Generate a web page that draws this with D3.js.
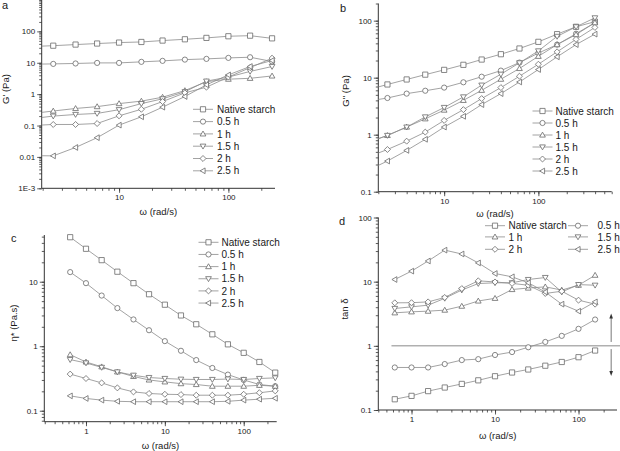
<!DOCTYPE html>
<html><head><meta charset="utf-8">
<script src="https://cdn.jsdelivr.net/npm/d3@7"></script>
<style>
body{margin:0;background:#fff;}
svg text{font-family:"Liberation Sans",Arial,sans-serif;}
</style></head>
<body><svg id="c" width="620" height="451"></svg>
<script>
const seriesNames = ["Native starch","0.5 h","1 h","1.5 h","2 h","2.5 h"];
const markerTypes = ["square","circle","triUp","triDown","diamond","triLeft"];

// Panel a: G' (Pa)
const omegaA = [1.58, 2.5, 4, 6.3, 10, 16, 25, 40, 63, 100, 158, 251];
const gPrime = [
  [33, 35, 38, 41, 44, 46, 51, 56, 62, 70, 73, 60],
  [9.0, 9.2, 9.5, 9.9, 9.9, 10.7, 11.5, 12.6, 13.3, 14.3, 15, 11],
  [0.24, 0.29, 0.35, 0.40, 0.50, 0.60, 0.80, 1.3, 2.5, 3.0, 3.2, 3.8],
  [0.165, 0.2, 0.225, 0.243, 0.32, 0.5, 0.71, 1.19, 2.6, 3.5, 5.3, 7.6],
  [0.1, 0.108, 0.108, 0.116, 0.204, 0.33, 0.58, 1.1, 1.67, 3.5, 7.0, 14],
  [0.011, 0.0108, 0.02, 0.041, 0.103, 0.19, 0.385, 0.84, 1.98, 4.1, 7.6, 11.8]
];
// Panel b: G'' (Pa)
const omegaB = [1.58, 2.5, 4, 6.3, 10, 16, 25, 40, 63, 100, 158, 251, 398];
const gDouble = [
  [6.2, 7.6, 9.3, 11.3, 13.7, 16.8, 20.8, 25.8, 32.5, 42.5, 58, 78, 96],
  [3.9, 4.4, 5.25, 5.9, 6.7, 8.3, 10.4, 13.3, 18.4, 27, 38, 59, 92],
  [0.74, 0.97, 1.36, 1.9, 2.7, 4.0, 6.0, 9.4, 14.5, 23.7, 38, 57, 92],
  [0.74, 0.97, 1.36, 2.05, 3.0, 4.6, 7.4, 11.5, 18.2, 29.5, 53, 78, 112],
  [0.41, 0.55, 0.77, 1.11, 1.78, 2.75, 4.3, 6.7, 10.6, 17.2, 28.4, 47, 76],
  [0.24, 0.345, 0.53, 0.83, 1.36, 2.1, 3.37, 5.25, 8.4, 13.9, 23.2, 38, 58]
];
// Panel c: eta* (Pa.s)
const omegaC = [0.63, 1, 1.58, 2.5, 4, 6.3, 10, 16, 25, 40, 63, 100, 158, 251];
const etaStar = [
  [49, 32.4, 21.6, 14.3, 9.5, 6.4, 4.4, 3.0, 2.19, 1.53, 1.07, 0.79, 0.57, 0.39],
  [14.1, 9.5, 6.1, 3.9, 2.6, 1.77, 1.2, 0.85, 0.61, 0.46, 0.363, 0.30, 0.255, 0.24],
  [0.74, 0.57, 0.48, 0.40, 0.34, 0.30, 0.28, 0.263, 0.255, 0.24, 0.24, 0.24, 0.248, 0.24],
  [0.62, 0.55, 0.47, 0.40, 0.355, 0.327, 0.316, 0.308, 0.305, 0.305, 0.31, 0.305, 0.316, 0.323],
  [0.37, 0.316, 0.27, 0.226, 0.196, 0.185, 0.18, 0.178, 0.174, 0.174, 0.174, 0.18, 0.19, 0.203],
  [0.17, 0.155, 0.146, 0.14, 0.138, 0.138, 0.138, 0.138, 0.138, 0.138, 0.14, 0.146, 0.151, 0.156]
];
// Panel d: tan delta
const omegaD = [0.63, 1, 1.58, 2.5, 4, 6.3, 10, 16, 25, 40, 63, 100, 158];
const tanDelta = [
  [0.147, 0.166, 0.197, 0.224, 0.255, 0.29, 0.336, 0.384, 0.428, 0.49, 0.56, 0.665, 0.845],
  [0.46, 0.46, 0.46, 0.52, 0.6, 0.62, 0.72, 0.8, 0.95, 1.15, 1.43, 1.84, 2.57],
  [3.27, 3.39, 3.47, 3.6, 4.15, 5.0, 5.5, 7.55, 7.95, 8.3, 7.4, 8.8, 12.6],
  [3.82, 4.05, 4.3, 5.5, 7.4, 9.35, 9.6, 9.6, 10.8, 11.6, 6.9, 9.0, 8.8],
  [4.68, 4.7, 4.84, 5.67, 7.8, 10.3, 9.9, 9.4, 8.8, 6.55, 7.1, 5.15, 4.46],
  [10.8, 14.6, 21, 31, 27, 19.6, 13.4, 11.9, 9.6, 6.9, 4.46, 3.47, 4.84]
];

const xTicksA = [10, 100], yTicksA = [0.001, 0.01, 0.1, 1, 10, 100];
const yLabelsA = ["1E-3", "0.01", "0.1", "1", "10", "100"];
const xTicksB = [10, 100], yTicksB = [0.1, 1, 10, 100];
const yLabelsB = ["0.1", "1", "10", "100"];
const xTicksC = [1, 10, 100], yTicksC = [0.1, 1, 10];
const yLabelsC = ["0.1", "1", "10"];
const xTicksD = [1, 10, 100], yTicksD = [0.1, 1, 10, 100];
const yLabelsD = ["0.1", "1", "10", "100"];

const LINE = "#8c8c8c", MARK = "#6a6a6a", AXIS = "#333", TXT = "#1a1a1a";
const svg = d3.select("#c");

function minorTicks(domain){
  const out=[];
  const lo=Math.floor(Math.log10(domain[0])), hi=Math.ceil(Math.log10(domain[1]));
  for(let e=lo;e<=hi;e++) for(let m=1;m<10;m++){
    const v=m*Math.pow(10,e);
    if(v>=domain[0]*0.999 && v<=domain[1]*1.001) out.push(v);
  }
  return out;
}

function markerPath(type, s){
  const h=s/2;
  switch(type){
    case "square": return `M${-h},${-h}H${h}V${h}H${-h}Z`;
    case "circle": return `M${h},0A${h},${h} 0 1,1 ${-h},0A${h},${h} 0 1,1 ${h},0Z`;
    case "triUp": return `M0,${-h*1.1}L${h*1.1},${h*0.8}L${-h*1.1},${h*0.8}Z`;
    case "triDown": return `M0,${h*1.1}L${h*1.1},${-h*0.8}L${-h*1.1},${-h*0.8}Z`;
    case "diamond": return `M0,${-h*1.15}L${h*1.15},0L0,${h*1.15}L${-h*1.15},0Z`;
    case "triLeft": return `M${-h*1.1},0L${h*0.8},${-h*1.1}L${h*0.8},${h*1.1}Z`;
  }
}
const MS = 5.2;

function panel(cfg, idx){
  const g = svg.append("g");
  const x = d3.scaleLog().domain(cfg.xd).range(cfg.xr);
  const y = d3.scaleLog().domain(cfg.yd).range(cfg.yr);
  const clipId = "clip"+idx;
  g.append("clipPath").attr("id",clipId).append("rect")
    .attr("x",cfg.xr[0]).attr("y",cfg.yr[1]).attr("width",cfg.xr[1]-cfg.xr[0]).attr("height",cfg.yr[0]-cfg.yr[1]);

  // axes
  const xb = cfg.yr[0], yl = cfg.xr[0];
  const ax = g.append("g").attr("transform",`translate(0,${xb})`)
    .call(d3.axisBottom(x).tickValues(minorTicks(cfg.xd)).tickSize(2.5).tickFormat(""));
  const ax2 = g.append("g").attr("transform",`translate(0,${xb})`)
    .call(d3.axisBottom(x).tickValues(cfg.xt).tickSize(4.5).tickPadding(2).tickFormat(d=>String(d)));
  const ay = g.append("g").attr("transform",`translate(${yl},0)`)
    .call(d3.axisLeft(y).tickValues(minorTicks(cfg.yd)).tickSize(2.5).tickFormat(""));
  const ay2 = g.append("g").attr("transform",`translate(${yl},0)`)
    .call(d3.axisLeft(y).tickValues(cfg.yt).tickSize(4.5).tickPadding(2).tickFormat((d,i)=>cfg.yl[i]));
  [ax,ax2,ay,ay2].forEach(a=>{
    a.selectAll("path.domain").attr("stroke",AXIS).attr("stroke-width",1);
    a.selectAll("line").attr("stroke",AXIS).attr("stroke-width",0.8);
    a.selectAll("text").attr("fill",TXT).style("font-size","8px").style("font-family","Liberation Sans, Arial, sans-serif");
  });
  ax2.select("path.domain").remove(); ay2.select("path.domain").remove();
  ax.select("path.domain").attr("d",`M${cfg.xr[0]},0H${cfg.xr[1]}`);
  ay.select("path.domain").attr("d",`M0,${cfg.yr[0]}V${cfg.yr[1]}`);

  // extras
  if(cfg.extra) cfg.extra(g,x,y);

  // series
  const line = d3.line().x(d=>x(d[0])).y(d=>y(d[1]));
  cfg.data.forEach((vals,si)=>{
    const pts = cfg.om.map((o,i)=>[o,vals[i]]);
    g.append("path").attr("d",line(pts)).attr("fill","none")
      .attr("stroke",LINE).attr("stroke-width",0.8).attr("clip-path",`url(#${clipId})`);
    g.selectAll(null).data(pts.filter(p=>p[0]>=cfg.xd[0]&&p[0]<=cfg.xd[1])).enter().append("path")
      .attr("d",markerPath(markerTypes[si],MS))
      .attr("transform",d=>`translate(${x(d[0])},${y(d[1])})`)
      .attr("fill","#fff").attr("stroke",MARK).attr("stroke-width",0.8);
  });

  // legend
  cfg.legend.forEach((L,si)=>{
    g.append("line").attr("x1",L[0]).attr("x2",L[0]+20).attr("y1",L[1]).attr("y2",L[1])
      .attr("stroke",LINE).attr("stroke-width",0.8);
    g.append("path").attr("d",markerPath(markerTypes[si],MS))
      .attr("transform",`translate(${L[0]+10},${L[1]})`)
      .attr("fill","#fff").attr("stroke",MARK).attr("stroke-width",0.8);
    g.append("text").attr("x",L[2]).attr("y",L[1]+3.6).text(seriesNames[si])
      .attr("fill",TXT).style("font-size","10px");
  });

  // titles
  g.append("text").attr("x",(cfg.xr[0]+cfg.xr[1])/2).attr("y",cfg.xtY).attr("text-anchor","middle")
    .attr("fill",TXT).style("font-size","9.5px").text("ω (rad/s)");
  g.append("text").attr("transform",`translate(${cfg.ytX},${cfg.ytY}) rotate(-90)`).attr("text-anchor","middle")
    .attr("fill",TXT).style("font-size","9.5px").text(cfg.ytitle);
  g.append("text").attr("x",cfg.lab[0]).attr("y",cfg.lab[1]).attr("fill",TXT)
    .style("font-size","11px").text(cfg.label);
}

panel({
  xd:[1.96,267], xr:[41.7,275], yd:[0.001,1000], yr:[188.3,0],
  xt:xTicksA, yt:yTicksA, yl:yLabelsA, om:omegaA, data:gPrime,
  legend: seriesNames.map((n,i)=>[193, 109.3+i*12.3, 217]),
  xtY:215, ytX:9, ytY:89, ytitle:"G' (Pa)", label:"a", lab:[2,9]
},0);

panel({
  xd:[2,600], xr:[378.3,611.7], yd:[0.1,200], yr:[191.7,3.5],
  xt:xTicksB, yt:yTicksB, yl:yLabelsB, om:omegaB, data:gDouble,
  legend: seriesNames.map((n,i)=>[532.5, 111+i*12, 555.5]),
  xtY:216.5, ytX:349, ytY:91, ytitle:"G'' (Pa)", label:"b", lab:[340,12]
},1);

panel({
  xd:[0.296,262], xr:[44.3,276.7], yd:[0.0676,53], yr:[421.7,235],
  xt:xTicksC, yt:yTicksC, yl:yLabelsC, om:omegaC, data:etaStar,
  legend: seriesNames.map((n,i)=>[198.5, 242.3+i*12.15, 221.5]),
  xtY:449, ytX:16.5, ytY:323, ytitle:"η* (Pa.s)", label:"c", lab:[11,242]
},2);

const refLine = [0.575, 1];
const arrowUp = [246, 1.15, 3.2];
const arrowDown = [246, 0.89, 0.34];
panel({
  xd:[0.4,289], xr:[378.3,617], yd:[0.1,100], yr:[410,217.5],
  xt:xTicksD, yt:yTicksD, yl:yLabelsD, om:omegaD, data:tanDelta,
  legend: [[485,225.7,508.5],[568,225.7,597.5],[485,236.9,508.5],[568,236.9,597.5],[485,249.3,508.5],[568,249.3,597.5]],
  xtY:439, ytX:348, ytY:309, ytitle:"tan δ", label:"d", lab:[339,225],
  extra:(g,x,y)=>{
    g.append("line").attr("x1",x(refLine[0])).attr("x2",620).attr("y1",y(refLine[1])).attr("y2",y(refLine[1]))
      .attr("stroke","#8a8a8a").attr("stroke-width",1);
    [arrowUp,arrowDown].forEach(a=>{
      const ax=x(a[0]), y1=y(a[1]), y2=y(a[2]);
      const dir = y2<y1?-1:1;
      g.append("line").attr("x1",ax).attr("x2",ax).attr("y1",y1).attr("y2",y2-dir*3)
        .attr("stroke","#555").attr("stroke-width",0.8);
      g.append("path").attr("d",`M${ax},${y2}L${ax-1.8},${y2-dir*5}L${ax+1.8},${y2-dir*5}Z`).attr("fill","#333");
    });
  }
},3);
</script></body></html>
